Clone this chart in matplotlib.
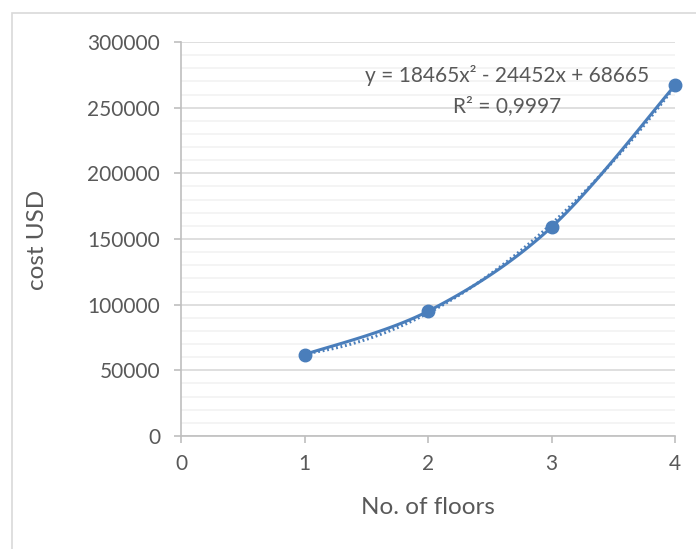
import numpy as np
import matplotlib
matplotlib.use("Agg")
import matplotlib.pyplot as plt
from matplotlib.patches import Rectangle

floors = [1, 2, 3, 4]
cost = [62000, 95000, 159000, 267000]
coef = [18465, -24452, 68665]
eq_text = "y = 18465x² - 24452x + 68665"
r2_text = "R² = 0,9997"
xticks = [0, 1, 2, 3, 4]
yticks = [0, 50000, 100000, 150000, 200000, 250000, 300000]

plt.rcParams['font.family'] = ['Lato', 'DejaVu Sans']
txt = '#595959'
col = '#4A7EBB'

fig = plt.figure(figsize=(6.96, 5.49), dpi=100)
fig.patches.append(Rectangle((12/696, -0.1), 1.2, 1 - 13/549 + 0.1, transform=fig.transFigure,
                             fill=False, edgecolor='#d9d9d9', linewidth=1.2))
ax = fig.add_axes([181/696, 1 - 436/549, (675 - 181)/696, (436 - 42)/549])

# smooth line (Catmull-Rom style)
x = np.array(floors, float); y = np.array(cost, float)
px = np.concatenate([[x[0]], x, [x[-1]]]); py = np.concatenate([[y[0]], y, [y[-1]]])
sx, sy = [], []
t = np.linspace(0, 1, 40)
for i in range(1, len(px) - 2):
    p0, p1, p2, p3 = [np.array([px[j], py[j]]) for j in (i - 1, i, i + 1, i + 2)]
    c1 = p1 + (p2 - p0) / 6; c2 = p2 - (p3 - p1) / 6
    pts = ((1 - t)**3)[:, None]*p1 + (3*(1 - t)**2*t)[:, None]*c1 + (3*(1 - t)*t**2)[:, None]*c2 + (t**3)[:, None]*p2
    sx.extend(pts[:, 0]); sy.extend(pts[:, 1])

xt = np.linspace(1, 4, 200)
ax.plot(xt, np.polyval(coef, xt), color=col, lw=2.2, ls=(0, (0.6, 0.9)), zorder=3, clip_on=False)
ax.plot(sx, sy, color=col, lw=2.2, zorder=4, solid_capstyle='round', clip_on=False)
ax.plot(floors, cost, 'o', color=col, ms=9, zorder=5, clip_on=False)

ax.set_xlim(0, 4); ax.set_ylim(0, 300000)
ax.set_xticks(xticks); ax.set_yticks(yticks)
ax.set_yticks(np.arange(0, 300001, 10000), minor=True)
ax.grid(True, which='major', axis='y', color='#d9d9d9', lw=1.2)
ax.grid(True, which='minor', axis='y', color='#f2f2f2', lw=1.2)
ax.set_axisbelow(True)
for s in ['top', 'right']:
    ax.spines[s].set_visible(False)
for s in ['left', 'bottom']:
    ax.spines[s].set_color('#bfbfbf'); ax.spines[s].set_linewidth(1.2)
ax.tick_params(axis='both', which='major', color='#bfbfbf', length=5, width=1.2,
               labelcolor=txt, labelsize=15)
ax.tick_params(axis='y', which='minor', length=0)
ax.tick_params(axis='x', pad=8)
ax.tick_params(axis='y', pad=10)
fig.text(37/696, 1 - 240/549, 'cost USD', rotation=90, ha='center', va='center',
         color=txt, fontsize=17.5)
fig.text(428/696, 1 - 507/549, 'No. of floors', ha='center', va='center',
         color=txt, fontsize=17.5)
fig.text(507/696, 1 - 76/549, eq_text, ha='center', va='center', color=txt, fontsize=15)
fig.text(507/696, 1 - 106/549, r2_text, ha='center', va='center', color=txt, fontsize=15)

fig.savefig('out.png', dpi=100)
